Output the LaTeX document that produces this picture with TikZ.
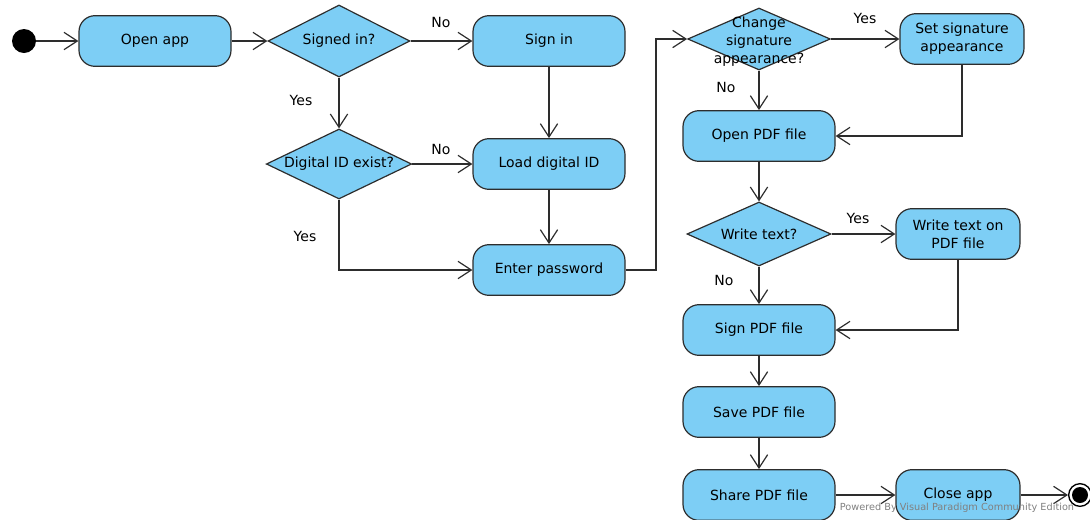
\documentclass[tikz,border=0pt]{standalone}
\usepackage{fontspec}
\setmainfont{DejaVu Sans}
\usetikzlibrary{shapes.geometric,arrows.meta}
\definecolor{actblue}{RGB}{125,206,245}
\definecolor{lineg}{RGB}{45,45,45}
\begin{document}
\begin{tikzpicture}[>={Straight Barb[length=10pt,width=13pt]},x=0.75pt,y=-0.75pt,
	act/.style={draw=lineg,fill=actblue,line width=0.9pt,rounded corners=12pt,minimum width=114pt,minimum height=38pt,inner sep=2pt,align=center,font=\fontsize{10.5}{13.5}\selectfont},
	smallact/.style={act,minimum width=93pt},
	decide/.style={draw=lineg,fill=actblue,line width=0.9pt,diamond,aspect=2,inner sep=0pt,align=center,font=\fontsize{10.5}{13.5}\selectfont},
	flow/.style={->,draw=lineg,line width=0.9pt},
	lab/.style={font=\fontsize{10.5}{13.5}\selectfont},
	wmark/.style={text=black!50,font=\fontsize{7.3}{8}\selectfont,inner sep=0pt}]
	\useasboundingbox (0,0) rectangle (1090,519);
	% start / end
	\node[circle,fill=black,minimum size=18pt,inner sep=0pt] (start) at (24,41) {};
	\node[circle,draw=black,fill=white,line width=1pt,minimum size=17pt,inner sep=0pt] (stop) at (1080,495) {};
	\fill[black] (stop.center) circle (6pt);
	% left part
	\node[act] (openapp) at (155,41) {Open app};
	\node[decide,minimum width=106.5pt,minimum height=54pt] (signed) at (339,41) {Signed in?};
	\node[act] (signin) at (549,41) {Sign in};
	\node[decide,minimum width=109pt,minimum height=52.5pt] (digital) at (339,164) {Digital ID exist?};
	\node[act] (load) at (549,164) {Load digital ID};
	\node[act] (enterpw) at (549,270) {Enter password};
	\coordinate (turn) at (656,270);
	% right part
	\node[decide,minimum width=107pt,minimum height=46.5pt,
		label={[align=center,lab,yshift=-2pt]center:Change\\signature\\appearance?}] (change) at (759,39) {};
	\node[smallact] (setsig) at (962,39) {Set signature\\appearance};
	\node[act] (openpdf) at (759,136) {Open PDF file};
	\node[decide,minimum width=108pt,minimum height=48pt] (writeq) at (759,234) {Write text?};
	\node[smallact] (writeon) at (958,234) {Write text on\\PDF file};
	\node[act] (signpdf) at (759,330) {Sign PDF file};
	\node[act] (savepdf) at (759,412) {Save PDF file};
	\node[act] (sharepdf) at (759,495) {Share PDF file};
	\node[smallact] (closeapp) at (958,495) {Close app};
	% connectors
	\draw[flow] (start) -- (openapp);
	\draw[flow] (openapp) -- (signed);
	\draw[flow] (signed) -- (signin);
	\draw[flow] (signed) -- (digital);
	\draw[flow] (signin) -- (load);
	\draw[flow] (digital) -- (load);
	\draw[flow] (digital.south) |- (enterpw);
	\draw[flow] (load) -- (enterpw);
	\draw[flow] (enterpw) -- (turn) |- (change);
	\draw[flow] (change) -- (setsig);
	\draw[flow] (change) -- (openpdf);
	\draw[flow] (setsig.south) |- (openpdf.east);
	\draw[flow] (openpdf) -- (writeq);
	\draw[flow] (writeq) -- (writeon);
	\draw[flow] (writeq) -- (signpdf);
	\draw[flow] (writeon.south) |- (signpdf.east);
	\draw[flow] (signpdf) -- (savepdf);
	\draw[flow] (savepdf) -- (sharepdf);
	\draw[flow] (sharepdf) -- (closeapp);
	\draw[flow] (closeapp) -- (stop);
	% guard labels
	\node[lab] (no1) at (441,22) {No};
	\node[lab] (yes1) at (301,100) {Yes};
	\node[lab] (no2) at (441,149) {No};
	\node[lab] (yes2) at (305,236) {Yes};
	\node[lab] (yes3) at (865,18) {Yes};
	\node[lab] (no3) at (726,87) {No};
	\node[lab] (yes4) at (858,218) {Yes};
	\node[lab] (no4) at (724,280) {No};
	% watermark
	\node[wmark] (powered) at (957,508) {Powered By Visual Paradigm Community Edition};
\end{tikzpicture}
\end{document}
